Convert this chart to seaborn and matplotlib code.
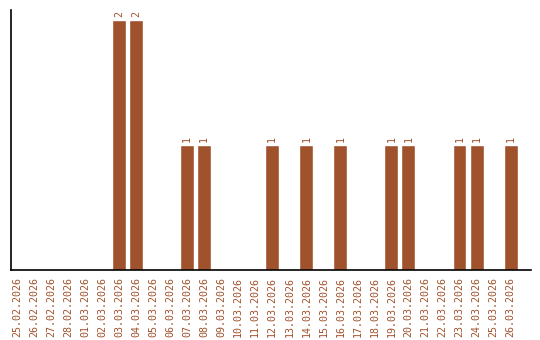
import matplotlib
matplotlib.use("Agg")
import matplotlib.pyplot as plt
import seaborn as sns
import pandas as pd

dates = ["25.02.2026", "26.02.2026", "27.02.2026", "28.02.2026", "01.03.2026",
         "02.03.2026", "03.03.2026", "04.03.2026", "05.03.2026", "06.03.2026",
         "07.03.2026", "08.03.2026", "09.03.2026", "10.03.2026", "11.03.2026",
         "12.03.2026", "13.03.2026", "14.03.2026", "15.03.2026", "16.03.2026",
         "17.03.2026", "18.03.2026", "19.03.2026", "20.03.2026", "21.03.2026",
         "22.03.2026", "23.03.2026", "24.03.2026", "25.03.2026", "26.03.2026"]
counts = [0, 0, 0, 0, 0, 0, 2, 2, 0, 0, 1, 1, 0, 0, 0, 1, 0, 1, 0, 1,
          0, 0, 1, 1, 0, 0, 1, 1, 0, 1]

color = "#A0522D"
df = pd.DataFrame({"date": dates, "count": counts})

sns.set_style("white")
fig = plt.figure(figsize=(5.4, 3.4), dpi=100)
ax = fig.add_axes([11/540, 70/340, 520/540, 260/340])
sns.barplot(data=df, x="date", y="count", color=color, saturation=1,
            width=0.82, ax=ax)

ax.set_xlim(-0.35, 30.2)
ax.set_ylim(0, 2.08)
ax.set_xlabel("")
ax.set_ylabel("")
ax.set_yticks([])
for s in ["top", "right"]:
    ax.spines[s].set_visible(False)
for s in ["left", "bottom"]:
    ax.spines[s].set_color("black")
    ax.spines[s].set_linewidth(1.2)

ax.tick_params(axis="x", length=0, pad=5, labelsize=7.2, labelcolor=color,
               rotation=90)
for t in ax.get_xticklabels():
    t.set_fontfamily("DejaVu Sans Mono")

labels = [str(v) if v else "" for v in counts]
ax.bar_label(ax.containers[0], labels=labels, rotation=90, color=color,
             fontsize=7.2, fontfamily="DejaVu Sans Mono", padding=2)

fig.savefig("out.png", dpi=100)
